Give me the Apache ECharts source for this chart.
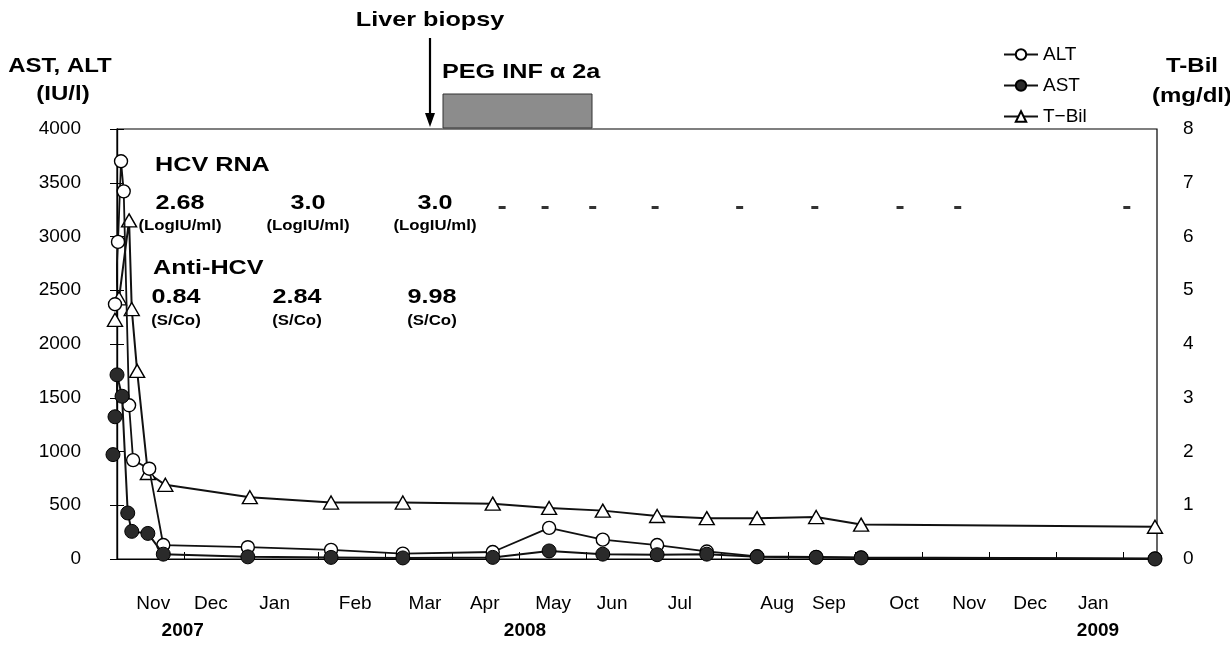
<!DOCTYPE html>
<html>
<head>
<meta charset="utf-8">
<script src="https://cdn.jsdelivr.net/npm/echarts@6/dist/echarts.min.js"></script>
<style>
html,body{margin:0;padding:0;background:#fff;}
#c{width:1230px;height:647px;}
</style>
</head>
<body>
<div id="c"></div>
<script>
// x values: months since 1 Nov 2007 (0.5 = mid-Nov 2007)
const altX  = [-0.03, 0.015, 0.06, 0.10, 0.18, 0.24, 0.48, 0.69, 1.95, 3.19, 4.26, 5.60, 6.44, 7.24, 8.05, 8.79, 9.54, 10.42, 11.09, 15.47];
const altY  = [2370, 2950, 3700, 3420, 1430, 920, 840, 130, 110, 85, 50, 65, 290, 180, 130, 70, 25, 20, 15, 5];
const astX  = [-0.06, -0.03, 0.0, 0.075, 0.16, 0.22, 0.46, 0.69, 1.95, 3.19, 4.26, 5.60, 6.44, 7.24, 8.05, 8.79, 9.54, 10.42, 11.09, 15.47];
const astY  = [971, 1323, 1713, 1514, 428, 257, 238, 45, 20, 15, 10, 15, 75, 45, 40, 45, 20, 15, 10, 0];
const tbilX = [-0.03, 0.03, 0.18, 0.22, 0.30, 0.46, 0.72, 1.98, 3.19, 4.26, 5.60, 6.44, 7.24, 8.05, 8.79, 9.54, 10.42, 11.09, 15.47];
const tbilY = [4.45, 4.85, 6.3, 4.65, 3.5, 1.6, 1.38, 1.15, 1.05, 1.05, 1.03, 0.95, 0.9, 0.8, 0.76, 0.76, 0.78, 0.64, 0.6];
// HCV RNA negative results ("-")
const hcvNegX = [5.74, 6.38, 7.09, 8.02, 9.28, 10.40, 11.67, 12.53, 15.05];
const hcvNegRow = 3270;
// tick labels (positions in the same month units, as placed in the figure)
const monthLabels = ['Nov','Dec','Jan','Feb','Mar','Apr','May','Jun','Jul','Aug','Sep','Oct','Nov','Dec','Jan'];
const monthPos    = [0.54, 1.40, 2.35, 3.55, 4.59, 5.48, 6.50, 7.38, 8.39, 9.84, 10.61, 11.73, 12.70, 13.61, 14.55];
const yearLabels = ['2007','2008','2009'];
const yearPos    = [0.98, 6.08, 14.62];
const hcvRnaVals = ['2.68','3.0','3.0'];
const antiHcvVals = ['0.84','2.84','9.98'];

const FONT = '"Liberation Sans", Arial, sans-serif';
const chart = echarts.init(document.getElementById('c'), null, {renderer:'canvas'});

function zip(xs, ys){ return xs.map((x,i)=>[x, ys[i]]); }
function lookup(pos, labels){
  return v => { const i = pos.findIndex(p => Math.abs(p - v) < 1e-6); return i >= 0 ? labels[i] : ''; };
}

const txt = (text, x, y, size, bold, align, sx) => ({
  type:'text', silent:true, x, y, scaleX: sx || 1.2,
  style:{text, x:0, y:0, fill:'#000', font:(bold?'bold ':'') + size + 'px ' + FONT,
    textAlign: align || 'center', textVerticalAlign:'middle'}
});

const rnaX = [180, 308, 435];
const antiX = [176, 297, 432];
const graphics = [
  txt('Liver biopsy', 430, 20, 21, true),
  {type:'line', silent:true, shape:{x1:430,y1:38,x2:430,y2:116}, style:{stroke:'#000', lineWidth:2.2}},
  {type:'polygon', silent:true, shape:{points:[[425,113],[435,113],[430,127]]}, style:{fill:'#000'}},
  txt('PEG INF \u03b1 2a', 442, 72, 21, true, 'left'),
  {type:'rect', silent:true, shape:{x:443,y:94,width:149,height:34}, style:{fill:'#8c8c8c', stroke:'#333', lineWidth:1}},
  txt('AST, ALT', 60, 66, 20, true),
  txt('(IU/l)', 63, 94, 20, true),
  txt('T-Bil', 1192, 66, 20, true),
  txt('(mg/dl)', 1192, 96, 20, true),
  txt('HCV RNA', 155, 165, 21, true, 'left'),
  txt('Anti-HCV', 153, 268, 21, true, 'left')
];
hcvRnaVals.forEach((v,i)=>{
  graphics.push(txt(v, rnaX[i], 203, 21, true));
  graphics.push(txt('(LogIU/ml)', rnaX[i], 226, 14, true));
});
antiHcvVals.forEach((v,i)=>{
  graphics.push(txt(v, antiX[i], 297, 21, true));
  graphics.push(txt('(S/Co)', antiX[i], 321, 14, true));
});

const option = {
  animation:false,
  backgroundColor:'#fff',
  textStyle:{fontFamily:FONT, color:'#000'},
  grid:{left:117, right:73, top:129, bottom:88, show:true, borderColor:'#000', borderWidth:1.2, backgroundColor:'transparent'},
  legend:{
    orient:'vertical', left:998, top:40, itemWidth:34, itemHeight:13, itemGap:12,
    textStyle:{fontSize:19, color:'#000', fontFamily:FONT},
    data:['ALT','AST','T\u2212Bil']
  },
  xAxis:[{
    type:'value', min:0, max:15.5, interval:0.5,
    axisLine:{show:true, onZero:false, lineStyle:{color:'#000', width:1.2}},
    axisTick:{show:false}, splitLine:{show:false},
    axisLabel:{customValues:monthPos, formatter:lookup(monthPos, monthLabels), fontSize:19, color:'#000', margin:35, fontFamily:FONT}
  },{
    type:'value', min:0, max:15.5, interval:1, position:'bottom',
    axisLine:{show:false}, splitLine:{show:false},
    axisTick:{show:true, inside:true, length:7, lineStyle:{color:'#000'}},
    axisLabel:{customValues:yearPos, formatter:lookup(yearPos, yearLabels), fontSize:19, fontWeight:'bold', color:'#000', margin:62, fontFamily:FONT}
  }],
  yAxis:[{
    type:'value', min:0, max:4000, interval:500, position:'left',
    axisLine:{show:true, lineStyle:{color:'#000', width:1.2}},
    axisTick:{show:true, inside:true, length:7, lineStyle:{color:'#000'}},
    splitLine:{show:false},
    axisLabel:{fontSize:19, color:'#000', margin:36, fontFamily:FONT, formatter:v=>String(v)}
  },{
    type:'value', min:0, max:8, interval:1, position:'right',
    axisLine:{show:true, lineStyle:{color:'#000', width:1.2}},
    axisTick:{show:true, inside:true, length:7, lineStyle:{color:'#000'}},
    splitLine:{show:false},
    axisLabel:{fontSize:19, color:'#000', margin:26, fontFamily:FONT, formatter:v=>String(v)}
  }],
  series:[
    {name:'T\u2212Bil', type:'line', yAxisIndex:1, clip:false, data:zip(tbilX, tbilY),
      symbol:'triangle', symbolSize:[15,13], z:2,
      itemStyle:{color:'#fff', borderColor:'#000', borderWidth:1.4},
      lineStyle:{color:'#111', width:2}},
    {name:'ALT', type:'line', yAxisIndex:0, clip:false, data:zip(altX, altY),
      symbol:'circle', symbolSize:13, z:3,
      itemStyle:{color:'#fff', borderColor:'#000', borderWidth:1.4},
      lineStyle:{color:'#111', width:1.8}},
    {name:'AST', type:'line', yAxisIndex:0, clip:false, data:zip(astX, astY),
      symbol:'circle', symbolSize:14, z:4,
      itemStyle:{color:'#2a2a2a', borderColor:'#000', borderWidth:1},
      lineStyle:{color:'#111', width:2}},
    {name:'HCV RNA neg', type:'scatter', yAxisIndex:0, data:hcvNegX.map(x=>[x, hcvNegRow]),
      symbol:'rect', symbolSize:[7,3], itemStyle:{color:'#000'}, silent:true, z:5}
  ],
  graphic:graphics
};
chart.setOption(option);
</script>
</body>
</html>
